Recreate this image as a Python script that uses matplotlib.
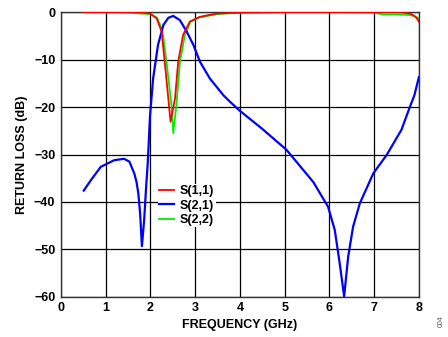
import numpy as np
import matplotlib
matplotlib.use("Agg")
import matplotlib.pyplot as plt

# S(2,1) - blue
s21_f = [0.51, 0.67, 0.89, 1.19, 1.41, 1.53, 1.64, 1.69, 1.73, 1.77, 1.81, 1.86, 1.90, 1.94, 1.96,
         1.99, 2.06, 2.17, 2.29, 2.40, 2.51, 2.66, 2.81, 2.96, 3.11, 3.33, 3.63, 3.78, 4.0,
         4.5, 5.04, 5.64, 5.97, 6.12, 6.23, 6.33, 6.42, 6.53, 6.68, 6.98, 7.28, 7.61,
         7.79, 7.9, 8.0]
s21_db = [-37.6, -35.4, -32.6, -31.2, -30.9, -31.5, -34.0, -35.8, -38.2, -42.4, -49.3, -43.8, -37.5, -31.8, -28.0,
          -22.0, -14.0, -6.9, -2.7, -1.2, -0.8, -1.7, -4.1, -6.9, -10.5, -14.0, -17.5, -18.9, -20.8,
          -24.6, -29.0, -35.8, -41.0, -45.9, -52.9, -59.9, -51.5, -45.2, -40.3, -34.0, -30.1, -24.8,
          -20.2, -17.5, -13.7]

# S(1,1) - red
s11_f = [0.5, 1.0, 1.5, 1.8, 1.99, 2.14, 2.25, 2.32, 2.40, 2.45, 2.55, 2.62, 2.73, 2.88,
         3.1, 3.48, 4.0, 5.0, 6.0, 7.0, 7.6, 7.75, 7.85, 7.93, 8.0]
s11_db = [0.0, 0.0, 0.0, -0.05, -0.3, -1.3, -4.1, -10.5, -18.2, -23.1, -18.2, -10.5, -4.8, -2.0,
          -1.0, -0.3, -0.1, 0.0, 0.0, 0.0, -0.05, -0.2, -0.5, -1.0, -2.0]

# S(2,2) - green
s22_f = [0.5, 1.0, 1.5, 1.8, 2.0, 2.15, 2.27, 2.36, 2.47, 2.51, 2.58, 2.66, 2.77, 2.9,
         3.1, 3.5, 4.0, 5.0, 6.0, 7.0, 7.2, 7.5, 7.8, 7.9, 8.0]
s22_db = [0.0, 0.0, -0.1, -0.3, -0.4, -1.2, -4.0, -10.5, -19.6, -25.5, -19.6, -10.5, -4.8, -2.0,
          -1.1, -0.4, -0.1, 0.0, 0.0, -0.1, -0.5, -0.5, -0.6, -0.9, -1.3]

x_ticks = [0, 1, 2, 3, 4, 5, 6, 7, 8]
y_ticks = [0, -10, -20, -30, -40, -50, -60]

plt.rcParams['font.family'] = ['Liberation Sans', 'DejaVu Sans']
plt.rcParams['font.weight'] = 'bold'

fig = plt.figure(figsize=(4.48, 3.37), dpi=100)
ax = fig.add_axes([0.136, 0.119, 0.799, 0.845])

ax.plot(s11_f, s11_db, color='#ff0000', lw=1.3, label='S(1,1)', zorder=4)
ax.plot(s21_f, s21_db, color='#0000ff', lw=1.6, label='S(2,1)', zorder=3)
ax.plot(s22_f, s22_db, color='#00ee00', lw=1.3, label='S(2,2)', zorder=2)

ax.set_xlim(0, 8)
ax.set_ylim(-60, 0)
ax.set_xticks(x_ticks)
ax.set_yticks(y_ticks)
ax.set_yticklabels(['0' if v == 0 else '\u2212%d' % abs(v) for v in y_ticks])
ax.tick_params(length=0, labelsize=9, pad=4)
ax.grid(True, color='black', lw=0.9)
for sp in ax.spines.values():
    sp.set_color('#333333')
    sp.set_linewidth(1.0)

ax.set_xlabel('FREQUENCY (GHz)', fontsize=9, fontweight='bold', labelpad=3)
ax.set_ylabel('RETURN LOSS (dB)', fontsize=9, fontweight='bold', labelpad=4)

leg = ax.legend(loc='upper left', bbox_to_anchor=(0.27, 0.397), frameon=True,
                fontsize=9, handlelength=1.2, handletextpad=0.5, borderpad=0.1,
                labelspacing=0.2, borderaxespad=0)
leg.get_frame().set_edgecolor('none')
leg.get_frame().set_facecolor('white')
leg.get_frame().set_alpha(1)

fig.text(0.985, 0.03, '004', rotation=90, fontsize=5, color='#555555',
         fontweight='normal', ha='center', va='bottom')

fig.savefig('out.png', dpi=100)
